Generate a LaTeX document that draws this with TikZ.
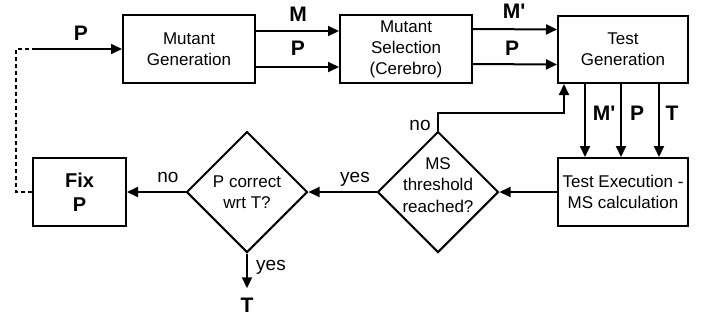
\documentclass[tikz,border=0pt]{standalone}
\usepackage{fontspec}
\setmainfont{Liberation Sans}
\usetikzlibrary{arrows.meta,shapes.geometric}
\begin{document}
\begin{tikzpicture}[x=1pt,y=-1pt,
  box/.style={draw,line width=2pt,inner sep=0pt,align=center,font=\fontsize{17}{21}\selectfont},
  fixbox/.style={draw,line width=2pt,inner sep=0pt,align=center,font=\fontsize{20}{24}\selectfont\bfseries},
  diam/.style={draw,diamond,line width=2pt,inner sep=0pt,minimum width=121pt,minimum height=121pt},
  dtext/.style={align=center,inner sep=0pt,font=\fontsize{17}{21.5}\selectfont},
  arr/.style={line width=2pt,-{Triangle[length=11pt,width=10pt]}},
  blbl/.style={anchor=base,inner sep=0pt,font=\fontsize{21}{24}\selectfont\bfseries},
  slbl/.style={anchor=base,inner sep=0pt,font=\fontsize{19}{22}\selectfont},
  dashline/.style={line width=2pt,dash pattern=on 4pt off 3pt}]
\useasboundingbox (0,0) rectangle (715,325);

% boxes
\node[box,minimum width=132pt,minimum height=68pt] (mg) at (189,49) {Mutant\\Generation};
\node[box,minimum width=132pt,minimum height=68pt] (msel) at (406,49) {Mutant\\Selection\\(Cerebro)};
\node[box,minimum width=130pt,minimum height=67pt] (tg) at (623,49.5) {Test\\Generation};
\node[box,minimum width=130pt,minimum height=68pt] (te) at (623,192) {Test Execution -\\MS calculation};
\node[fixbox,minimum width=93pt,minimum height=68pt] (fix) at (79.5,192) {Fix\\P};

% diamonds
\node[diam] (msd) at (438,192) {};
\node[dtext] (msdt) at (438,185) {MS\\threshold\\reached?};
\node[diam] (pcd) at (247,192) {};
\node[dtext] (pcdt) at (247,192) {P correct\\wrt T?};

% output T
\node[inner sep=0pt,outer sep=10pt,font=\fontsize{21}{24}\selectfont\bfseries] (tout) at (247,305.5) {T};

% input
\coordinate (pin) at (35,49);
\draw[arr] (pin) -- (mg.west);
\draw[dashline] (fix.west) -- ++(-16,0) |- (pin);
\node[blbl] (lp0) at (81,40) {P};

% mg -> msel
\draw[arr] ([yshift=18pt]mg.east) -- ([yshift=18pt]msel.west);
\draw[arr] ([yshift=-18pt]mg.east) -- ([yshift=-18pt]msel.west);
\node[blbl] (lm) at (298,21) {M};
\node[blbl] (lp1) at (298,55) {P};

% msel -> tg
\draw[arr] ([yshift=20pt]msel.east) -- ([yshift=20pt]tg.west);
\draw[arr] ([yshift=-15pt]msel.east) -- ([yshift=-15pt]tg.west);
\node[blbl] (lm2) at (514,18) {M\textquotesingle};
\node[blbl] (lp2) at (512,55) {P};

% tg -> te
\draw[arr] ([xshift=-38pt]tg.south) -- ([xshift=-38pt]te.north);
\draw[arr] ([xshift=-2pt]tg.south) -- ([xshift=-2pt]te.north);
\draw[arr] ([xshift=36pt]tg.south) -- ([xshift=36pt]te.north);
\node[blbl] (lm3) at (604,120) {M\textquotesingle};
\node[blbl] (lp3) at (637,120) {P};
\node[blbl] (lt3) at (672,120) {T};

% te -> msd
\draw[arr] (te.west) -- (msd.east);
% msd no -> tg
\draw[arr] (msd.north) -- ++(0,-18) -| ([xshift=-59pt]tg.south);
\node[slbl] (lno1) at (420,130) {no};
% msd yes -> pcd
\draw[arr] (msd.west) -- (pcd.east);
\node[slbl] (lyes1) at (355,182) {yes};
% pcd no -> fix
\draw[arr] (pcd.west) -- (fix.east);
\node[slbl] (lno2) at (168,182) {no};
% pcd yes -> T
\draw[arr] (pcd.south) -- (tout.north);
\node[slbl] (lyes2) at (271,270) {yes};
\end{tikzpicture}
\end{document}
